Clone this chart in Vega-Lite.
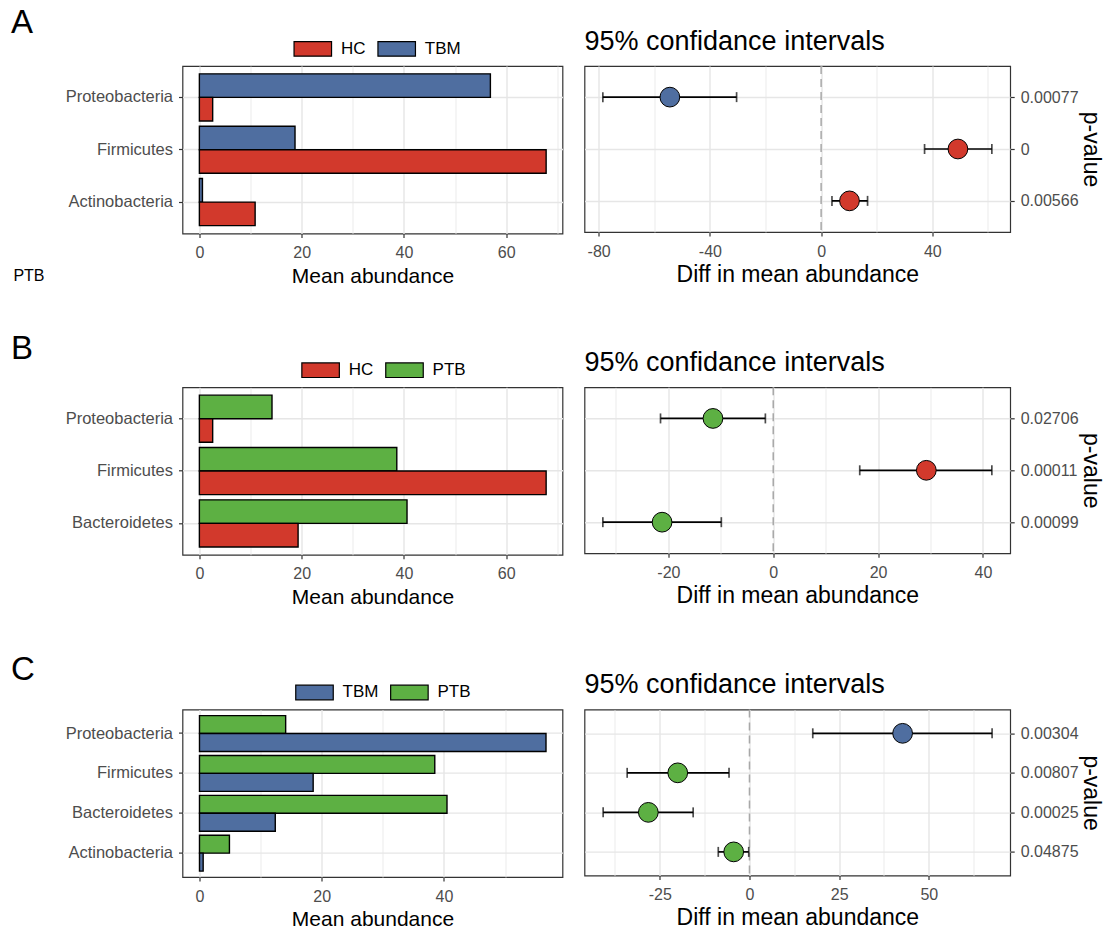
{
  "$schema": "https://vega.github.io/schema/vega-lite/v6.json",
  "background": "white",
  "padding": {"left": 10.5, "top": 7, "right": 5, "bottom": 0},
  "datasets": {
    "barsA": [
      {"phylum": "Proteobacteria", "group": "TBM", "mean": 56.9},
      {"phylum": "Proteobacteria", "group": "HC", "mean": 2.6},
      {"phylum": "Firmicutes", "group": "TBM", "mean": 18.7},
      {"phylum": "Firmicutes", "group": "HC", "mean": 67.8},
      {"phylum": "Actinobacteria", "group": "TBM", "mean": 0.6},
      {"phylum": "Actinobacteria", "group": "HC", "mean": 10.9}
    ],
    "barsB": [
      {"phylum": "Proteobacteria", "group": "PTB", "mean": 14.2},
      {"phylum": "Proteobacteria", "group": "HC", "mean": 2.6},
      {"phylum": "Firmicutes", "group": "PTB", "mean": 38.6},
      {"phylum": "Firmicutes", "group": "HC", "mean": 67.8},
      {"phylum": "Bacteroidetes", "group": "PTB", "mean": 40.6},
      {"phylum": "Bacteroidetes", "group": "HC", "mean": 19.3}
    ],
    "barsC": [
      {"phylum": "Proteobacteria", "group": "PTB", "mean": 14.1},
      {"phylum": "Proteobacteria", "group": "TBM", "mean": 56.7},
      {"phylum": "Firmicutes", "group": "PTB", "mean": 38.5},
      {"phylum": "Firmicutes", "group": "TBM", "mean": 18.6},
      {"phylum": "Bacteroidetes", "group": "PTB", "mean": 40.5},
      {"phylum": "Bacteroidetes", "group": "TBM", "mean": 12.4},
      {"phylum": "Actinobacteria", "group": "PTB", "mean": 4.9},
      {"phylum": "Actinobacteria", "group": "TBM", "mean": 0.6}
    ],
    "ciA": [
      {"phylum": "Proteobacteria", "pval": "0.00077", "group": "TBM", "diff": -54.4, "lo": -78.5, "hi": -30.4},
      {"phylum": "Firmicutes", "pval": "0", "group": "HC", "diff": 49.2, "lo": 37.2, "hi": 61.4},
      {"phylum": "Actinobacteria", "pval": "0.00566", "group": "HC", "diff": 10.2, "lo": 3.9, "hi": 16.7}
    ],
    "ciB": [
      {"phylum": "Proteobacteria", "pval": "0.02706", "group": "PTB", "diff": -11.5, "lo": -21.5, "hi": -1.5},
      {"phylum": "Firmicutes", "pval": "0.00011", "group": "HC", "diff": 29.2, "lo": 16.5, "hi": 41.7},
      {"phylum": "Bacteroidetes", "pval": "0.00099", "group": "PTB", "diff": -21.2, "lo": -32.5, "hi": -9.9}
    ],
    "ciC": [
      {"phylum": "Proteobacteria", "pval": "0.00304", "group": "TBM", "diff": 42.7, "lo": 17.65, "hi": 67.65},
      {"phylum": "Firmicutes", "pval": "0.00807", "group": "PTB", "diff": -20.0, "lo": -34.1, "hi": -5.7},
      {"phylum": "Bacteroidetes", "pval": "0.00025", "group": "PTB", "diff": -28.2, "lo": -40.8, "hi": -15.7},
      {"phylum": "Actinobacteria", "pval": "0.04875", "group": "PTB", "diff": -4.4, "lo": -8.7, "hi": -0.2}
    ],
    "zero": [{"x0": 0}]
  },
  "spacing": 45.3,
  "resolve": {"scale": {"color": "independent", "fill": "independent", "x": "independent", "y": "independent", "yOffset": "independent"}, "legend": {"color": "independent"}},
  "vconcat": [
    {
      "title": {"text": "A", "anchor": "start", "frame": "group", "fontSize": 33, "fontWeight": "normal", "color": "black", "dx": -171.4, "offset": -39.1, "baseline": "alphabetic"},
      "spacing": 20,
      "resolve": {"scale": {"color": "independent", "fill": "independent", "x": "independent", "y": "independent", "yOffset": "independent"}, "legend": {"color": "independent"}},
      "hconcat": [
        {
          "width": 380, "height": 167.5,
          "data": {"name": "barsA"},
          "mark": {"type": "bar", "stroke": "black", "strokeWidth": 1.4, "opacity": 1},
          "encoding": {
            "y": {"field": "phylum", "type": "nominal", "sort": ["Proteobacteria", "Firmicutes", "Actinobacteria"],
                  "scale": {"paddingInner": 0.1, "paddingOuter": 0.15},
                  "axis": {"grid": true, "bandPosition": 0.5, "labelFontSize": 16.5, "labelPadding": 6,
                           "title": "PTB", "titleAngle": 0, "titleAlign": "left", "titleBaseline": "alphabetic", "titleX": -169.6, "titleY": 214, "titleFontSize": 16, "titleColor": "black"}},
            "yOffset": {"field": "group", "type": "nominal", "sort": ["TBM", "HC"], "scale": {"paddingInner": 0, "paddingOuter": 0}},
            "x": {"field": "mean", "type": "quantitative", "scale": {"domain": [-3.3, 71.0], "nice": false, "zero": false},
                  "axis": {"values": [0, 10, 20, 30, 40, 50, 60, 70],
                           "labelExpr": "datum.value % 20 === 0 ? '' + datum.value : ''",
                           "tickOpacity": {"condition": {"test": "datum.value % 20 !== 0", "value": 0}, "value": 1},
                           "gridWidth": {"condition": {"test": "datum.value % 20 !== 0", "value": 0.8}, "value": 1.4},
                           "title": "Mean abundance", "titleFontSize": 21, "titleBaseline": "alphabetic", "titleY": 48.7}},
            "color": {"field": "group", "type": "nominal", "scale": {"domain": ["HC", "TBM"], "range": ["#D2392C", "#4F6EA0"]},
                      "legend": {"legendX": 110.8, "legendY": -37}}
          }
        },
        {
          "width": 425.7, "height": 166,
          "title": {"text": "95% confidance intervals", "anchor": "start", "frame": "group", "fontSize": 27, "fontWeight": "normal", "color": "black", "baseline": "alphabetic", "offset": -11.5},
          "layer": [
            {
              "data": {"name": "zero"},
              "mark": {"type": "rule", "strokeDash": [8, 5], "color": "#A8A8A8", "strokeWidth": 1.5},
              "encoding": {"x": {"field": "x0", "type": "quantitative"}}
            },
            {
              "data": {"name": "ciA"},
              "mark": {"type": "rule", "color": "black", "strokeWidth": 1.7},
              "encoding": {"x": {"field": "lo", "type": "quantitative"}, "x2": {"field": "hi"},
                           "y": {"field": "pval", "type": "nominal", "sort": ["0.00077", "0", "0.00566"]}}
            },
            {
              "data": {"name": "ciA"},
              "mark": {"type": "tick", "color": "black", "thickness": 1.7, "size": 10},
              "encoding": {"x": {"field": "lo", "type": "quantitative"}, "y": {"field": "pval", "type": "nominal", "sort": ["0.00077", "0", "0.00566"]}}
            },
            {
              "data": {"name": "ciA"},
              "mark": {"type": "tick", "color": "black", "thickness": 1.7, "size": 10},
              "encoding": {"x": {"field": "hi", "type": "quantitative"}, "y": {"field": "pval", "type": "nominal", "sort": ["0.00077", "0", "0.00566"]}}
            },
            {
              "data": {"name": "ciA"},
              "mark": {"type": "point", "shape": "circle", "filled": true, "size": 390, "stroke": "black", "strokeWidth": 1, "opacity": 1},
              "encoding": {"x": {"field": "diff", "type": "quantitative"},
                           "y": {"field": "pval", "type": "nominal", "sort": ["0.00077", "0", "0.00566"]},
                           "fill": {"field": "group", "type": "nominal", "scale": {"domain": ["HC", "TBM"], "range": ["#D2392C", "#4F6EA0"]}, "legend": null}}
            }
          ],
          "encoding": {
            "x": {"type": "quantitative", "scale": {"domain": [-85.1, 68.0], "nice": false, "zero": false},
                  "axis": {"values": [-80, -60, -40, -20, 0, 20, 40, 60],
                           "labelExpr": "datum.value % 40 === 0 ? '' + datum.value : ''",
                           "tickOpacity": {"condition": {"test": "datum.value % 40 !== 0", "value": 0}, "value": 1},
                           "gridWidth": {"condition": {"test": "datum.value % 40 !== 0", "value": 0.8}, "value": 1.4},
                           "title": "Diff in mean abundance", "titleFontSize": 23, "titleBaseline": "alphabetic", "titleY": 49}},
            "y": {"type": "nominal", "scale": {"type": "point", "padding": 0.6},
                  "axis": {"orient": "right", "grid": true, "labelPadding": 6, "title": "p-value", "titleFontSize": 23,
                           "titleAngle": 90, "titleAlign": "center", "titleBaseline": "middle", "titleX": 80.5, "titleY": 83}}
          }
        }
      ]
    },
    {
      "title": {"text": "B", "anchor": "start", "frame": "group", "fontSize": 33, "fontWeight": "normal", "color": "black", "dx": -171.4, "offset": -43.5, "baseline": "alphabetic"},
      "spacing": 20,
      "resolve": {"scale": {"color": "independent", "fill": "independent", "x": "independent", "y": "independent", "yOffset": "independent"}, "legend": {"color": "independent"}},
      "hconcat": [
        {
          "width": 380, "height": 167.5,
          "data": {"name": "barsB"},
          "mark": {"type": "bar", "stroke": "black", "strokeWidth": 1.4, "opacity": 1},
          "encoding": {
            "y": {"field": "phylum", "type": "nominal", "sort": ["Proteobacteria", "Firmicutes", "Bacteroidetes"],
                  "scale": {"paddingInner": 0.1, "paddingOuter": 0.15},
                  "axis": {"grid": true, "bandPosition": 0.5, "labelFontSize": 16.5, "labelPadding": 6, "title": null}},
            "yOffset": {"field": "group", "type": "nominal", "sort": ["PTB", "HC"], "scale": {"paddingInner": 0, "paddingOuter": 0}},
            "x": {"field": "mean", "type": "quantitative", "scale": {"domain": [-3.3, 71.0], "nice": false, "zero": false},
                  "axis": {"values": [0, 10, 20, 30, 40, 50, 60, 70],
                           "labelExpr": "datum.value % 20 === 0 ? '' + datum.value : ''",
                           "tickOpacity": {"condition": {"test": "datum.value % 20 !== 0", "value": 0}, "value": 1},
                           "gridWidth": {"condition": {"test": "datum.value % 20 !== 0", "value": 0.8}, "value": 1.4},
                           "title": "Mean abundance", "titleFontSize": 21, "titleBaseline": "alphabetic", "titleY": 48.7}},
            "color": {"field": "group", "type": "nominal", "scale": {"domain": ["HC", "PTB"], "range": ["#D2392C", "#5DB043"]},
                      "legend": {"legendX": 118.6, "legendY": -37}}
          }
        },
        {
          "width": 425.7, "height": 166,
          "title": {"text": "95% confidance intervals", "anchor": "start", "frame": "group", "fontSize": 27, "fontWeight": "normal", "color": "black", "baseline": "alphabetic", "offset": -11.5},
          "layer": [
            {
              "data": {"name": "zero"},
              "mark": {"type": "rule", "strokeDash": [8, 5], "color": "#A8A8A8", "strokeWidth": 1.5},
              "encoding": {"x": {"field": "x0", "type": "quantitative"}}
            },
            {
              "data": {"name": "ciB"},
              "mark": {"type": "rule", "color": "black", "strokeWidth": 1.7},
              "encoding": {"x": {"field": "lo", "type": "quantitative"}, "x2": {"field": "hi"},
                           "y": {"field": "pval", "type": "nominal", "sort": ["0.02706", "0.00011", "0.00099"]}}
            },
            {
              "data": {"name": "ciB"},
              "mark": {"type": "tick", "color": "black", "thickness": 1.7, "size": 10},
              "encoding": {"x": {"field": "lo", "type": "quantitative"}, "y": {"field": "pval", "type": "nominal", "sort": ["0.02706", "0.00011", "0.00099"]}}
            },
            {
              "data": {"name": "ciB"},
              "mark": {"type": "tick", "color": "black", "thickness": 1.7, "size": 10},
              "encoding": {"x": {"field": "hi", "type": "quantitative"}, "y": {"field": "pval", "type": "nominal", "sort": ["0.02706", "0.00011", "0.00099"]}}
            },
            {
              "data": {"name": "ciB"},
              "mark": {"type": "point", "shape": "circle", "filled": true, "size": 390, "stroke": "black", "strokeWidth": 1, "opacity": 1},
              "encoding": {"x": {"field": "diff", "type": "quantitative"},
                           "y": {"field": "pval", "type": "nominal", "sort": ["0.02706", "0.00011", "0.00099"]},
                           "fill": {"field": "group", "type": "nominal", "scale": {"domain": ["HC", "PTB"], "range": ["#D2392C", "#5DB043"]}, "legend": null}}
            }
          ],
          "encoding": {
            "x": {"type": "quantitative", "scale": {"domain": [-36.0, 45.2], "nice": false, "zero": false},
                  "axis": {"values": [-30, -20, -10, 0, 10, 20, 30, 40],
                           "labelExpr": "datum.value % 20 === 0 ? '' + datum.value : ''",
                           "tickOpacity": {"condition": {"test": "datum.value % 20 !== 0", "value": 0}, "value": 1},
                           "gridWidth": {"condition": {"test": "datum.value % 20 !== 0", "value": 0.8}, "value": 1.4},
                           "title": "Diff in mean abundance", "titleFontSize": 23, "titleBaseline": "alphabetic", "titleY": 49}},
            "y": {"type": "nominal", "scale": {"type": "point", "padding": 0.6},
                  "axis": {"orient": "right", "grid": true, "labelPadding": 6, "title": "p-value", "titleFontSize": 23,
                           "titleAngle": 90, "titleAlign": "center", "titleBaseline": "middle", "titleX": 80.5, "titleY": 83}}
          }
        }
      ]
    },
    {
      "title": {"text": "C", "anchor": "start", "frame": "group", "fontSize": 33, "fontWeight": "normal", "color": "black", "dx": -171.4, "offset": -42.2, "baseline": "alphabetic"},
      "spacing": 20,
      "resolve": {"scale": {"color": "independent", "fill": "independent", "x": "independent", "y": "independent", "yOffset": "independent"}, "legend": {"color": "independent"}},
      "hconcat": [
        {
          "width": 380, "height": 167.5,
          "data": {"name": "barsC"},
          "mark": {"type": "bar", "stroke": "black", "strokeWidth": 1.4, "opacity": 1},
          "encoding": {
            "y": {"field": "phylum", "type": "nominal", "sort": ["Proteobacteria", "Firmicutes", "Bacteroidetes", "Actinobacteria"],
                  "scale": {"paddingInner": 0.1, "paddingOuter": 0.15},
                  "axis": {"grid": true, "bandPosition": 0.5, "labelFontSize": 16.5, "labelPadding": 6, "title": null}},
            "yOffset": {"field": "group", "type": "nominal", "sort": ["PTB", "TBM"], "scale": {"paddingInner": 0, "paddingOuter": 0}},
            "x": {"field": "mean", "type": "quantitative", "scale": {"domain": [-2.78, 59.4], "nice": false, "zero": false},
                  "axis": {"values": [0, 10, 20, 30, 40, 50],
                           "labelExpr": "datum.value % 20 === 0 ? '' + datum.value : ''",
                           "tickOpacity": {"condition": {"test": "datum.value % 20 !== 0", "value": 0}, "value": 1},
                           "gridWidth": {"condition": {"test": "datum.value % 20 !== 0", "value": 0.8}, "value": 1.4},
                           "title": "Mean abundance", "titleFontSize": 21, "titleBaseline": "alphabetic", "titleY": 48.7}},
            "color": {"field": "group", "type": "nominal", "scale": {"domain": ["TBM", "PTB"], "range": ["#4F6EA0", "#5DB043"]},
                      "legend": {"legendX": 112.5, "legendY": -37}}
          }
        },
        {
          "width": 425.7, "height": 166,
          "title": {"text": "95% confidance intervals", "anchor": "start", "frame": "group", "fontSize": 27, "fontWeight": "normal", "color": "black", "baseline": "alphabetic", "offset": -11.5},
          "layer": [
            {
              "data": {"name": "zero"},
              "mark": {"type": "rule", "strokeDash": [8, 5], "color": "#A8A8A8", "strokeWidth": 1.5},
              "encoding": {"x": {"field": "x0", "type": "quantitative"}}
            },
            {
              "data": {"name": "ciC"},
              "mark": {"type": "rule", "color": "black", "strokeWidth": 1.7},
              "encoding": {"x": {"field": "lo", "type": "quantitative"}, "x2": {"field": "hi"},
                           "y": {"field": "pval", "type": "nominal", "sort": ["0.00304", "0.00807", "0.00025", "0.04875"]}}
            },
            {
              "data": {"name": "ciC"},
              "mark": {"type": "tick", "color": "black", "thickness": 1.7, "size": 10},
              "encoding": {"x": {"field": "lo", "type": "quantitative"}, "y": {"field": "pval", "type": "nominal", "sort": ["0.00304", "0.00807", "0.00025", "0.04875"]}}
            },
            {
              "data": {"name": "ciC"},
              "mark": {"type": "tick", "color": "black", "thickness": 1.7, "size": 10},
              "encoding": {"x": {"field": "hi", "type": "quantitative"}, "y": {"field": "pval", "type": "nominal", "sort": ["0.00304", "0.00807", "0.00025", "0.04875"]}}
            },
            {
              "data": {"name": "ciC"},
              "mark": {"type": "point", "shape": "circle", "filled": true, "size": 390, "stroke": "black", "strokeWidth": 1, "opacity": 1},
              "encoding": {"x": {"field": "diff", "type": "quantitative"},
                           "y": {"field": "pval", "type": "nominal", "sort": ["0.00304", "0.00807", "0.00025", "0.04875"]},
                           "fill": {"field": "group", "type": "nominal", "scale": {"domain": ["TBM", "PTB"], "range": ["#4F6EA0", "#5DB043"]}, "legend": null}}
            }
          ],
          "encoding": {
            "x": {"type": "quantitative", "scale": {"domain": [-46.0, 72.7], "nice": false, "zero": false},
                  "axis": {"values": [-37.5, -25, -12.5, 0, 12.5, 25, 37.5, 50, 62.5],
                           "labelExpr": "datum.value % 25 === 0 ? '' + datum.value : ''",
                           "tickOpacity": {"condition": {"test": "datum.value % 25 !== 0", "value": 0}, "value": 1},
                           "gridWidth": {"condition": {"test": "datum.value % 25 !== 0", "value": 0.8}, "value": 1.4},
                           "title": "Diff in mean abundance", "titleFontSize": 23, "titleBaseline": "alphabetic", "titleY": 49}},
            "y": {"type": "nominal", "scale": {"type": "point", "padding": 0.6},
                  "axis": {"orient": "right", "grid": true, "labelPadding": 6, "title": "p-value", "titleFontSize": 23,
                           "titleAngle": 90, "titleAlign": "center", "titleBaseline": "middle", "titleX": 80.5, "titleY": 83}}
          }
        }
      ]
    }
  ],
  "config": {
    "font": "Liberation Sans",
    "view": {"stroke": "#333333", "strokeWidth": 1.2},
    "axis": {"domain": false, "tickColor": "#333333", "tickWidth": 1.2, "tickSize": 4, "labelColor": "#4D4D4D", "labelFontSize": 16,
             "labelFont": "Liberation Sans", "titleFont": "Liberation Sans", "titleColor": "black", "titleFontWeight": "normal",
             "gridColor": "#E6E6E6", "gridWidth": 1.4},
    "axisX": {"labelBaseline": "alphabetic", "labelPadding": 20, "labelFlush": false, "labelOverlap": false},
    "axisY": {"labelOverlap": false},
    "legend": {"orient": "none", "direction": "horizontal", "title": null, "labelFontSize": 17, "labelColor": "black",
               "labelFont": "Liberation Sans", "symbolType": "M-1,-0.39H1V0.39H-1Z", "symbolSize": 1406,
               "symbolStrokeColor": "black", "symbolStrokeWidth": 1.2, "symbolOpacity": 1, "labelOffset": 8.6,
               "columnPadding": 8.9, "padding": 0},
    "title": {"font": "Liberation Sans"}
  }
}
